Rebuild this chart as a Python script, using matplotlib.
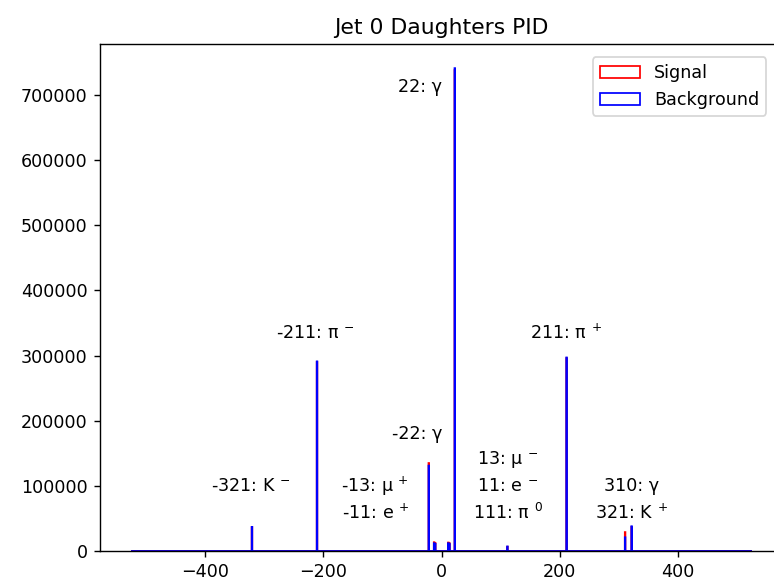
import numpy as np
import matplotlib
matplotlib.use("Agg")
import matplotlib.pyplot as plt

# ---- data ----
pids = [-321, -211, -22, -13, -11, 11, 13, 22, 111, 211, 310, 321]
signal_counts = [36500, 290000, 135000, 13500, 12000, 13000, 12000, 738000, 6500, 296000, 29000, 37000]
background_counts = [37000, 291000, 131000, 12000, 11000, 12000, 11000, 741000, 7000, 297000, 21000, 38000]

label_texts = ["22: γ", "-211: π $^{-}$", "211: π $^{+}$", "-22: γ", "-321: K $^{-}$",
               "-13: μ $^{+}$", "-11: e $^{+}$", "13: μ $^{-}$", "11: e $^{-}$",
               "111: π $^{0}$", "310: γ", "321: K $^{+}$"]
label_x = [-36, -214, 210, -41, -322, -112, -112, 112, 112, 112, 322, 322]
label_y = [712000, 334000, 334000, 179000, 99500, 99500, 58000, 141000, 99500, 58000, 99500, 58000]

title = "Jet 0 Daughters PID"
bins = np.arange(-525, 526, 1)

DPI = 126
fig = plt.figure(figsize=(774 / DPI, 585 / DPI), dpi=DPI)
ax = fig.add_axes([100 / 774, (585 - 551) / 585, 683 / 774, 507 / 585])

ax.hist(pids, bins=bins, weights=signal_counts, histtype="step", color="red", label="Signal")
ax.hist(pids, bins=bins, weights=background_counts, histtype="step", color="blue", label="Background")

for t, x, y in zip(label_texts, label_x, label_y):
    ax.text(x, y, t, ha="center", va="center", fontsize=10)

ax.set_title(title, fontsize=12.5)
ax.legend(loc="upper right", bbox_to_anchor=((766 - 100) / 683, (551 - 57) / 507),
          borderaxespad=0, handlelength=2.3)

fig.savefig("out.png", dpi=DPI)
